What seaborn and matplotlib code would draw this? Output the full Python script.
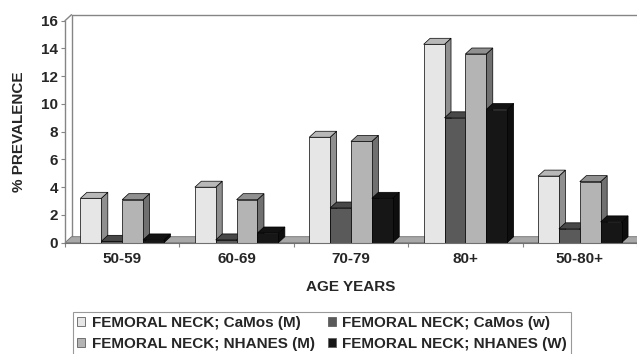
import numpy as np
import pandas as pd
import matplotlib
matplotlib.use("Agg")
import matplotlib.pyplot as plt
import seaborn as sns
from matplotlib.patches import Polygon, Patch
from matplotlib.lines import Line2D
from matplotlib.colors import to_rgb

# ---------------- data ----------------
age_groups = ["50-59", "60-69", "70-79", "80+", "50-80+"]
series_names = ["FEMORAL NECK; CaMos (M)", "FEMORAL NECK; CaMos (w)",
                "FEMORAL NECK; NHANES (M)", "FEMORAL NECK; NHANES (W)"]
camos_m = [3.2, 4.0, 7.6, 14.3, 4.8]
camos_w = [0.1, 0.2, 2.5, 9.0, 1.0]
nhanes_m = [3.1, 3.1, 7.3, 13.6, 4.4]
nhanes_w = [0.2, 0.7, 3.2, 9.6, 1.5]
y_ticks = [0, 2, 4, 6, 8, 10, 12, 14, 16]

colors = ["#e6e6e6", "#5a5a5a", "#b4b4b4", "#161616"]

rows = []
for name, vals in zip(series_names, [camos_m, camos_w, nhanes_m, nhanes_w]):
    for g, v in zip(age_groups, vals):
        rows.append({"age": g, "series": name, "value": v})
df = pd.DataFrame(rows)

# ---------------- style ----------------
sns.set_theme(style="white")
plt.rcParams['font.family'] = ['Liberation Sans', 'DejaVu Sans']
plt.rcParams['font.weight'] = 'bold'

W, H = 637, 354
fig = plt.figure(figsize=(W / 100, H / 100), dpi=100)
ax_l, ax_b, ax_w, ax_h = 65 / W, 1 - 242.7 / H, 572 / W, 222 / H
ax = fig.add_axes([ax_l, ax_b, ax_w, ax_h])

sns.barplot(data=df, x="age", y="value", hue="series", order=age_groups,
            hue_order=series_names, palette=colors, width=0.73, saturation=1,
            edgecolor="black", linewidth=0.5, legend=False, ax=ax, dodge=True)

ax.set_xlim(-0.5, 4.5)
ax.set_ylim(0, 16)

# depth offset (pixels -> data units)
dx_px, dy_px = 6.5, 6.0
dx = dx_px / (ax_w * W) * 5.0
dy = dy_px / (ax_h * H) * 16.0

frame_c = "#858585"

# floor slab
floor = Polygon([(-0.5, 0), (4.5, 0), (4.5 + dx, dy), (-0.5 + dx, dy)], closed=True,
                facecolor="#a8a8a8", edgecolor="#707070", linewidth=0.6,
                zorder=1.5, clip_on=False)
ax.add_patch(floor)

# back wall lines
ax.add_line(Line2D([-0.5 + dx, -0.5 + dx], [dy, 16 + dy], color=frame_c, lw=1.0,
                   clip_on=False, zorder=1))
ax.add_line(Line2D([-0.5 + dx, 4.5 + dx], [16 + dy, 16 + dy], color=frame_c, lw=1.0,
                   clip_on=False, zorder=1))
ax.add_line(Line2D([-0.5, -0.5 + dx], [16, 16 + dy], color=frame_c, lw=1.0,
                   clip_on=False, zorder=1))

# 3D faces for each bar
bars = [p for p in ax.patches if p is not floor and p.get_width() > 0 and p.get_height() >= 0]
bars = [p for p in bars if abs(p.get_width() - 0.73 / 4) < 0.01]
bars.sort(key=lambda p: p.get_x())
for i, p in enumerate(bars):
    x, w, h = p.get_x(), p.get_width(), p.get_height()
    fc = np.array(to_rgb(p.get_facecolor()))
    side_c = fc * 0.62
    top_c = np.clip(fc * 0.8, 0, 1)
    z = 2 + i * 0.01
    side = Polygon([(x + w, 0), (x + w + dx, dy), (x + w + dx, h + dy), (x + w, h)],
                   closed=True, facecolor=side_c, edgecolor="black", linewidth=0.5,
                   zorder=z, clip_on=False)
    top = Polygon([(x, h), (x + w, h), (x + w + dx, h + dy), (x + dx, h + dy)],
                  closed=True, facecolor=top_c, edgecolor="black", linewidth=0.5,
                  zorder=z, clip_on=False)
    ax.add_patch(side)
    ax.add_patch(top)
    p.set_zorder(z + 0.005)

# spines
for s in ["top", "right"]:
    ax.spines[s].set_visible(False)
ax.spines["left"].set_color(frame_c)
ax.spines["bottom"].set_color("#707070")
ax.spines["left"].set_linewidth(1.0)
ax.spines["bottom"].set_linewidth(0.8)

# y axis
ax.set_yticks(y_ticks)
ax.set_yticklabels([str(t) for t in y_ticks])
ax.tick_params(axis="y", direction="out", length=3, width=0.8, color=frame_c,
               pad=2.0, labelsize=11, left=True)
for t in ax.get_yticklabels():
    t.set_fontweight("bold")

# x axis: labels at categories, tick marks between categories
ax.set_xticks(np.arange(len(age_groups)))
ax.set_xticklabels(age_groups)
ax.set_xticks(np.arange(-0.5, len(age_groups), 1.0), minor=True)
ax.tick_params(axis="x", which="major", length=0, pad=7, labelsize=11, bottom=True)
ax.tick_params(axis="x", which="minor", direction="out", length=3, width=0.8,
               color=frame_c, bottom=True)
for t in ax.get_xticklabels():
    t.set_fontweight("bold")

ax.set_xlabel("AGE YEARS", fontsize=11, fontweight="bold")
ax.xaxis.set_label_coords(0.5, -0.166)
ax.set_ylabel("% PREVALENCE", fontsize=11, fontweight="bold")
ax.yaxis.set_label_coords(-0.068, 0.5)

# legend
handles = [Patch(facecolor=c, edgecolor="#606060", linewidth=0.6) for c in colors]
order = [0, 2, 1, 3]
leg = fig.legend([handles[k] for k in order], [series_names[k] for k in order],
                 ncol=2, loc="upper left", bbox_to_anchor=(72.5 / W, 1 - 311.7 / H),
                 prop={"weight": "bold", "size": 11}, frameon=True, fancybox=False,
                 edgecolor="#808080", handlelength=0.55, handleheight=0.55,
                 handletextpad=0.4, columnspacing=0.85, labelspacing=0.45,
                 borderpad=0.3, borderaxespad=0)
leg.get_frame().set_linewidth(0.8)

fig.savefig("out.png", dpi=100)
